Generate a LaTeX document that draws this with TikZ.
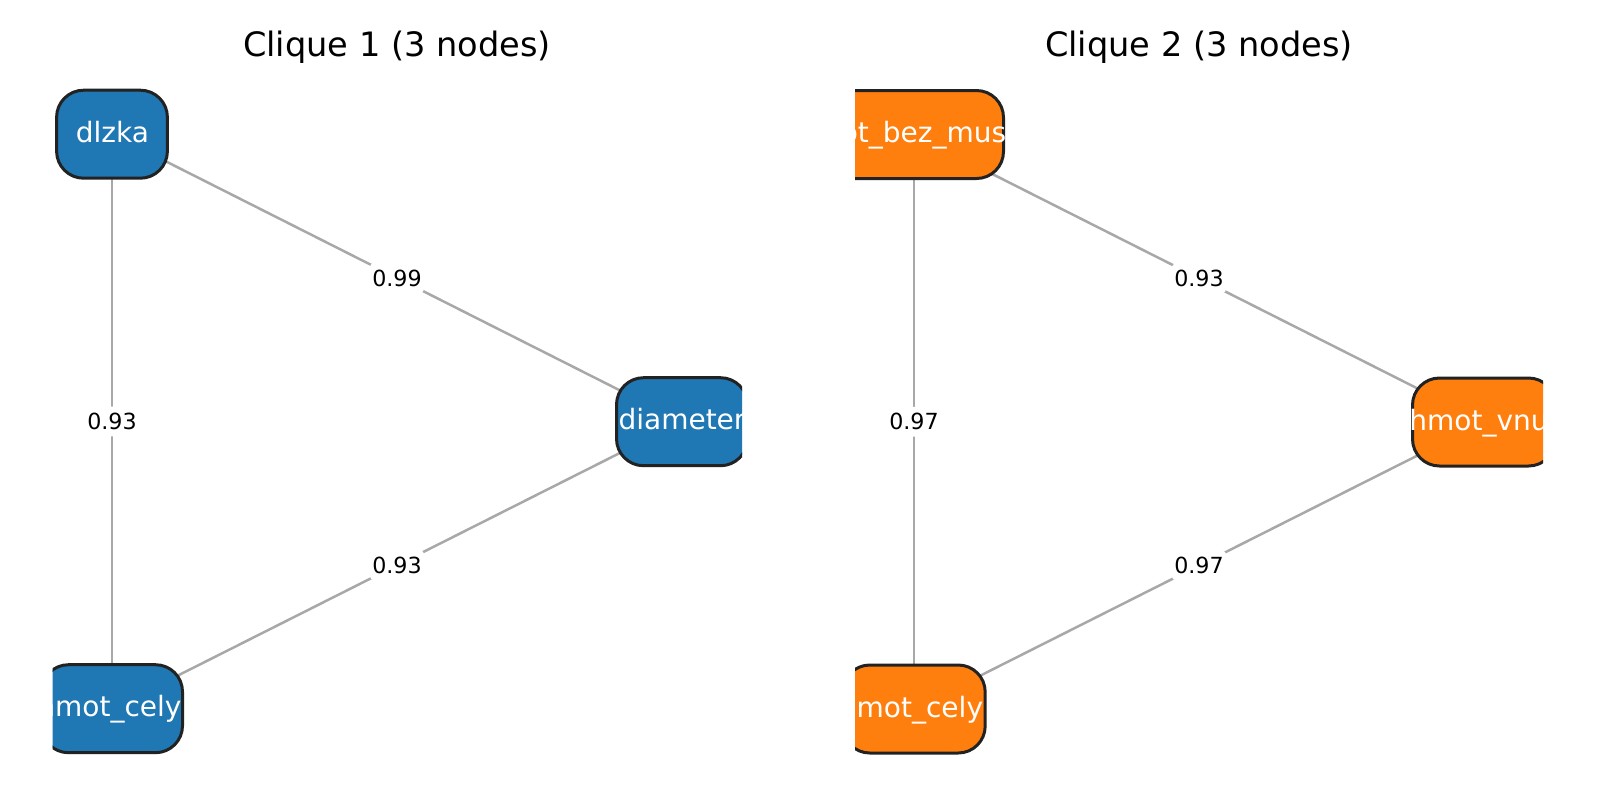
\documentclass[tikz,border=0pt]{standalone}
\usepackage{fontspec}
\setmainfont{DejaVu Sans}
\usetikzlibrary{backgrounds}
\definecolor{nblue}{HTML}{1F77B4}
\definecolor{norange}{HTML}{FF7F0E}
\definecolor{nedge}{HTML}{A8A8A8}
\definecolor{nborder}{HTML}{222222}
\begin{document}
\begin{tikzpicture}[x=0.5pt,y=-0.5pt,
  nodebox/.style={draw=nborder, line width=1.5pt, rounded corners=13.5pt, minimum height=44pt, inner sep=0pt},
  bluebox/.style={nodebox, fill=nblue},
  orangebox/.style={nodebox, fill=norange},
  ntext/.style={text=white, font=\fontsize{14}{16}\selectfont, inner sep=0pt, anchor=base},
  edgeline/.style={draw=nedge, line width=1.25pt},
  elabel/.style={fill=white, font=\fontsize{11.1}{13}\selectfont, inner xsep=1.2pt, inner ysep=3.2pt, rounded corners=2pt, text=black},
  ctitle/.style={font=\fontsize{16.8}{20}\selectfont, anchor=base, inner sep=0pt}
]
\useasboundingbox (0,0) rectangle (1600,800);

\node[ctitle] (t1) at (397,56) {Clique 1 (3 nodes)};
\node[ctitle] (t2) at (1199,56) {Clique 2 (3 nodes)};

% Clique 1
\begin{scope}
  \clip (52.7,0) rectangle (742,800);
  \node[bluebox, minimum width=55.4pt] (dlzka) at (112,134.2) {};
  \node[bluebox, minimum width=65.5pt] (diameter) at (682,421.7) {};
  \node[bluebox, minimum width=70.5pt] (cely1) at (112,708.7) {};
  \node[ntext] (tdlzka) at (112.5,142.5) {dlzka};
  \node[ntext] (tdiameter) at (682,429.5) {diameter};
  \node[ntext] (tcely1) at (109.5,716) {hmot\_cely};
\end{scope}

% Clique 2
\begin{scope}
  \clip (855,0) rectangle (1543,800);
  \node[orangebox, minimum width=89.5pt] (bezmus) at (914,134.5) {};
  \node[orangebox, minimum width=71.5pt] (vnu) at (1484,422) {};
  \node[orangebox, minimum width=71.2pt] (cely2) at (914,709) {};
  \node[ntext] (tbezmus) at (901,142.5) {hmot\_bez\_mus};
  \node[ntext] (tvnu) at (1479,430) {hmot\_vnu};
  \node[ntext] (tcely2) at (911,717) {hmot\_cely};
\end{scope}

\begin{pgfonlayer}{background}
  \draw[edgeline] (dlzka.center) -- (diameter.center) node[midway, elabel] {0.99};
  \draw[edgeline] (dlzka.center) -- (cely1.center) node[midway, elabel] {0.93};
  \draw[edgeline] (diameter.center) -- (cely1.center) node[midway, elabel] {0.93};
  \draw[edgeline] (bezmus.center) -- (vnu.center) node[midway, elabel] {0.93};
  \draw[edgeline] (bezmus.center) -- (cely2.center) node[midway, elabel] {0.97};
  \draw[edgeline] (vnu.center) -- (cely2.center) node[midway, elabel] {0.97};
\end{pgfonlayer}
\end{tikzpicture}
\end{document}
